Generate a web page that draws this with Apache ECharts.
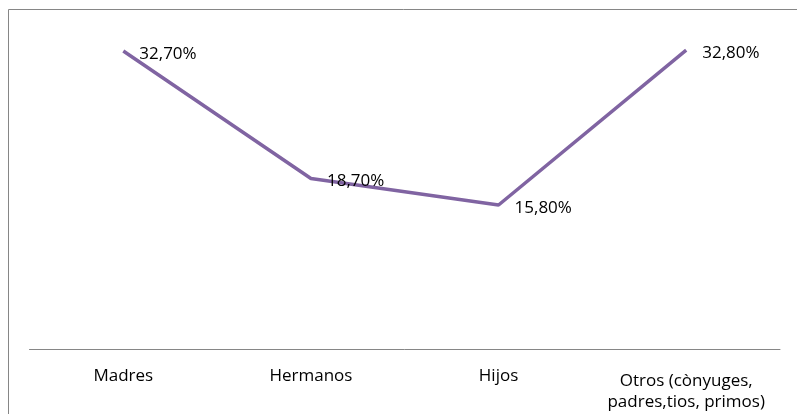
<!DOCTYPE html>
<html>
<head>
<meta charset="utf-8">
<script src="https://cdn.jsdelivr.net/npm/echarts@6/dist/echarts.min.js"></script>
<style>
html,body{margin:0;padding:0;background:#fff;}
#chart{width:797px;height:414px;}
</style>
</head>
<body>
<div id="chart"></div>
<script>
const categories = ['Madres', 'Hermanos', 'Hijos', 'Otros (cònyuges,\npadres,tios, primos)'];
const values = [32.7, 18.7, 15.8, 32.8];

const chart = echarts.init(document.getElementById('chart'), null, {renderer: 'canvas'});
const FONT = 'Open Sans';
chart.setOption({
  animation: false,
  backgroundColor: '#ffffff',
  graphic: [{
    type: 'rect',
    shape: {x: 8.5, y: 9.5, width: 800, height: 420},
    style: {fill: 'none', stroke: '#868686', lineWidth: 1},
    silent: true
  }],
  grid: {left: 29.5, right: 17, top: 30, bottom: 65, containLabel: false},
  xAxis: {
    type: 'category',
    data: categories.map(c => c.indexOf('\n') >= 0
      ? {value: c, textStyle: {padding: [5, 0, 0, 0]}}
      : c),
    boundaryGap: true,
    axisLine: {show: true, lineStyle: {color: '#868686', width: 1}},
    axisTick: {show: false},
    axisLabel: {
      color: '#000000', fontFamily: FONT, fontSize: 17, margin: 17,
      lineHeight: 21, interval: 0
    }
  },
  yAxis: {
    type: 'value', min: 0, max: 35, show: false,
    splitLine: {show: false}
  },
  series: [{
    type: 'line',
    data: values,
    symbol: 'circle',
    symbolSize: 0,
    showSymbol: true,
    itemStyle: {color: '#8064A2'},
    lineStyle: {color: '#8064A2', width: 3.5},
    label: {
      show: true, position: 'right', distance: 16, offset: [0, 3],
      color: '#000000', fontFamily: FONT, fontSize: 17,
      formatter: p => p.value.toFixed(2).replace('.', ',') + '%'
    }
  }]
});
</script>
</body>
</html>
